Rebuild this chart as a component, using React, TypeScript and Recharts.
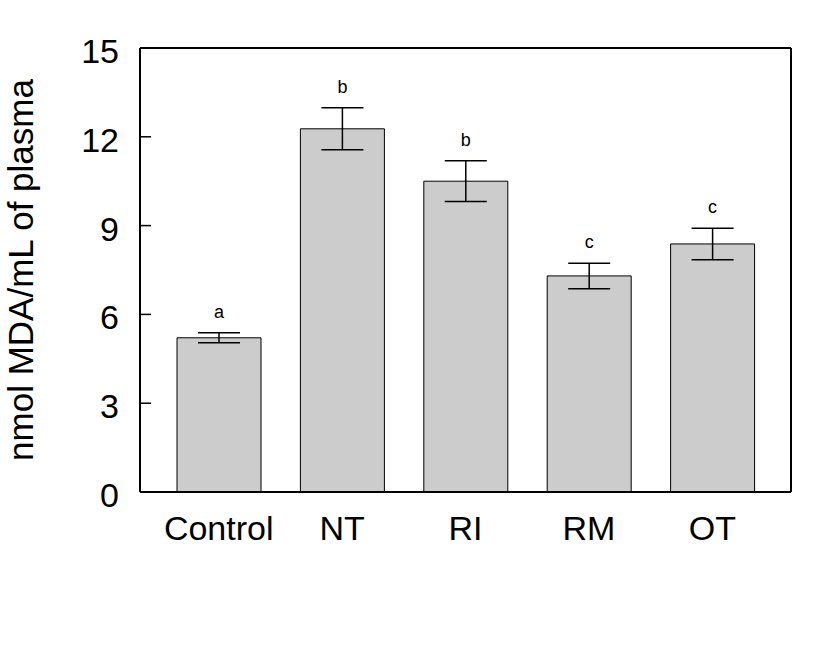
import React from "react";
import { Bar, BarChart, ErrorBar, LabelList, ReferenceLine, XAxis, YAxis } from "recharts";

const groups = ["Control", "NT", "RI", "RM", "OT"];
const means = [5.21, 12.27, 10.5, 7.3, 8.38];
const errors = [0.17, 0.71, 0.69, 0.43, 0.53];
const letters = ["a", "b", "b", "c", "c"];
const yTicks = [0, 3, 6, 9, 12, 15];
const innerTicks = [3, 6, 9, 12];

const FONT = "'Liberation Sans', Arial, sans-serif";

const data = groups.map((g, i) => ({
  group: g,
  mean: means[i],
  err: errors[i],
  letter: letters[i],
}));

// letter sits above the error bar cap, using the bar's own px-per-unit
function LetterLabel(props: any) {
  const { x, y, width, height, index } = props;
  const perUnit = height / means[index];
  const capY = y - errors[index] * perUnit;
  return (
    <text x={x + width / 2} y={capY - 15} textAnchor="middle" fontFamily={FONT} fontSize={18} fill="#000">
      {letters[index]}
    </text>
  );
}

function YTick(props: any) {
  const x = Number(props.x);
  const y = Number(props.y);
  return (
    <text x={x - 21} y={y + 15} textAnchor="end" fontFamily={FONT} fontSize={34} fill="#000">
      {props.payload.value}
    </text>
  );
}

// short inward tick drawn from the left edge of the plot
function TickShape(props: any) {
  const x1 = Number(props.x1);
  const y1 = Number(props.y1);
  return <path d={`M${x1},${y1}h11`} stroke="#000" strokeWidth={1.5} fill="none" />;
}

export default function App() {
  return (
    <div style={{ width: 834, height: 646, background: "#fff" }}>
      <style>{`body{margin:0}`}</style>
      <BarChart width={834} height={646} data={data} margin={{ top: 47, right: 42, bottom: 94, left: 40 }}>
        <XAxis
          dataKey="group"
          padding={{ left: 17, right: 17 }}
          tickLine={false}
          tickSize={0}
          tickMargin={24}
          height={60}
          axisLine={{ stroke: "#000", strokeWidth: 2 }}
          tick={{ fontSize: 34, fill: "#000", fontFamily: FONT }}
        />
        <XAxis
          xAxisId="top"
          dataKey="group"
          orientation="top"
          height={1}
          tick={false}
          tickLine={false}
          axisLine={{ stroke: "#000", strokeWidth: 2 }}
        />
        <YAxis
          domain={[0, 15]}
          ticks={yTicks}
          width={100}
          tickSize={0}
          tickMargin={0}
          interval={0}
          axisLine={{ stroke: "#000", strokeWidth: 2 }}
          tickLine={false}
          tick={<YTick />}
          label={{
            value: "nmol MDA/mL of plasma",
            angle: -90,
            position: "insideLeft",
            offset: -19,
            style: { fontSize: 35, fill: "#000", fontFamily: FONT, textAnchor: "middle" },
          }}
        />
        <YAxis
          yAxisId="right"
          orientation="right"
          domain={[0, 15]}
          width={1}
          tick={false}
          tickLine={false}
          axisLine={{ stroke: "#000", strokeWidth: 2 }}
        />
        {innerTicks.map((t) => (
          <ReferenceLine key={t} y={t} shape={<TickShape />} />
        ))}
        <Bar dataKey="mean" fill="#cccccc" stroke="#000" strokeWidth={1} barSize={84} isAnimationActive={false}>
          <ErrorBar dataKey="err" width={21} stroke="#000" strokeWidth={1.5} />
          <LabelList dataKey="letter" content={<LetterLabel />} />
        </Bar>
      </BarChart>
    </div>
  );
}
